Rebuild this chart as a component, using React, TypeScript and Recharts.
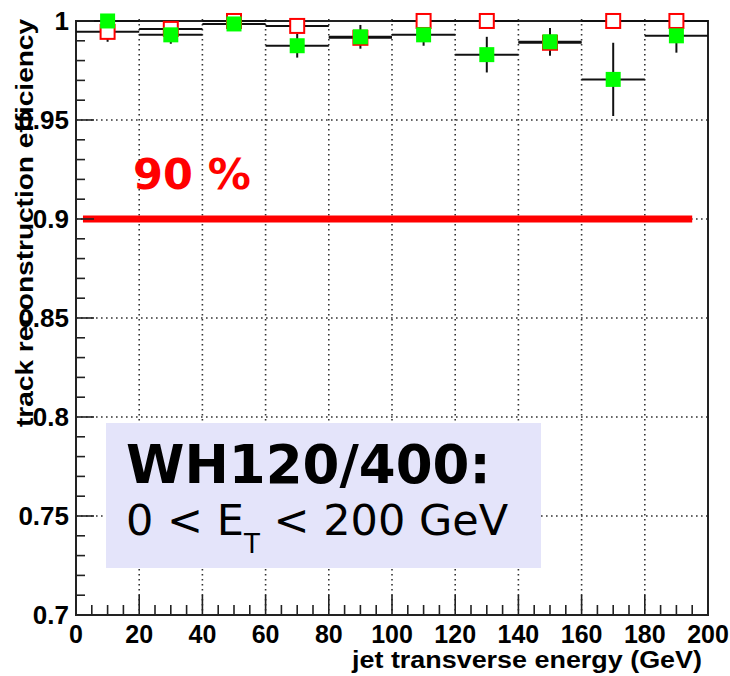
import { ScatterChart, Scatter, XAxis, YAxis, CartesianGrid, ErrorBar, ReferenceArea, ReferenceLine } from 'recharts'

// bins of 20 GeV in jet E_T
const BIN_CENTERS = [10, 30, 50, 70, 90, 110, 130, 150, 170, 190]
const BIN_HALF_WIDTH = 10

// open red squares
const RED_EFF = [0.9945, 0.996, 1.0, 0.9975, 0.9915, 1.0, 1.0, 0.989, 1.0, 1.0]
const RED_ERR = [0.005, 0.002, 0, 0.002, 0.003, 0, 0, 0.002, 0, 0]

// filled green squares
const GREEN_EFF = [1.0, 0.993, 0.9985, 0.9875, 0.992, 0.993, 0.983, 0.9895, 0.9705, 0.9925]
const GREEN_ERR = [0, 0.0045, 0.002, 0.006, 0.006, 0.0055, 0.009, 0.007, 0.0185, 0.0085]

const X_MAJOR = [0, 20, 40, 60, 80, 100, 120, 140, 160, 180, 200]
const Y_MAJOR = [0.7, 0.75, 0.8, 0.85, 0.9, 0.95, 1]
const Y_LABELS = ['0.7', '0.75', '0.8', '0.85', '0.9', '0.95', '1']

// 90% reference line
const THRESHOLD = 0.9
const THRESHOLD_FROM = 2.2
const THRESHOLD_TO = 195

const W = 730
const H = 676

const xMinor: number[] = []
for (let i = 0; i <= 40; i++) xMinor.push(i * 5)
const yMinor: number[] = []
for (let i = 0; i <= 30; i++) yMinor.push(Math.round(70 + i) / 100)

const toRows = (eff: number[], err: number[]) =>
  BIN_CENTERS.map((x, i) => ({ x, y: eff[i], ex: BIN_HALF_WIDTH, ey: err[i] }))

const redRows = toRows(RED_EFF, RED_ERR)
const greenRows = toRows(GREEN_EFF, GREEN_ERR)

const AXIS_FONT = '"Liberation Sans", Arial, Helvetica, sans-serif'
const BOX_FONT = '"DejaVu Sans", sans-serif'
const INK = '#222'

const XTick = (props: any) => {
  const { x, y, payload } = props
  const major = X_MAJOR.includes(payload.value)
  return (
    <g>
      <line x1={x} y1={y} x2={x} y2={y - (major ? 20 : 10)} stroke={INK} strokeWidth={1.6} />
      {major && (
        <text x={x} y={y + 28} textAnchor="middle" fontFamily={AXIS_FONT} fontWeight="bold" fontSize={25} fill="#000">
          {payload.value}
        </text>
      )}
    </g>
  )
}

const YTick = (props: any) => {
  const { x, y, payload } = props
  const idx = Y_MAJOR.indexOf(payload.value)
  const major = idx >= 0
  return (
    <g>
      <line x1={x} y1={y} x2={x + (major ? 18 : 9)} y2={y} stroke={INK} strokeWidth={1.6} />
      {major && (
        <text x={x - 7} y={y + 9} textAnchor="end" fontFamily={AXIS_FONT} fontWeight="bold" fontSize={26} fill="#000">
          {Y_LABELS[idx]}
        </text>
      )}
    </g>
  )
}

const OpenSquare = (props: any) => (
  <rect x={props.cx - 7} y={props.cy - 7} width={14} height={14} fill="#fff" stroke="#ff0000" strokeWidth={2} />
)

const FilledSquare = (props: any) => (
  <rect x={props.cx - 7.5} y={props.cy - 7.5} width={15} height={15} fill="#00ff00" />
)

export default function App() {
  return (
    <div style={{ position: 'absolute', left: 0, top: 0, width: W, height: H, background: '#fff' }}>
      <ScatterChart width={W} height={H} margin={{ top: 19, right: 22, bottom: 21, left: 20 }}>
        <CartesianGrid
          verticalValues={X_MAJOR.slice(1, -1)}
          horizontalValues={Y_MAJOR.slice(1, -1)}
          stroke="#333"
          strokeWidth={1.6}
          strokeDasharray="1.6 3.4"
        />
        <XAxis
          type="number"
          dataKey="x"
          domain={[0, 200]}
          ticks={xMinor}
          interval={0}
          axisLine={false}
          tickLine={false}
          tickSize={0}
          tickMargin={0}
          height={40}
          tick={<XTick />}
        />
        <YAxis
          type="number"
          dataKey="y"
          domain={[0.7, 1]}
          ticks={yMinor}
          interval={0}
          axisLine={false}
          tickLine={false}
          tickSize={0}
          tickMargin={0}
          width={56}
          tick={<YTick />}
        />
        <ReferenceArea x1={0} x2={200} y1={0.7} y2={1} fill="none" stroke={INK} strokeWidth={2} />
        <ReferenceLine
          segment={[{ x: THRESHOLD_FROM, y: THRESHOLD }, { x: THRESHOLD_TO, y: THRESHOLD }]}
          stroke="#ff0000"
          strokeWidth={7}
        />
        <Scatter data={redRows} shape={<OpenSquare />} isAnimationActive={false}>
          <ErrorBar dataKey="ex" direction="x" width={0} stroke="#111" strokeWidth={2} isAnimationActive={false} />
          <ErrorBar dataKey="ey" direction="y" width={0} stroke="#111" strokeWidth={2} isAnimationActive={false} />
        </Scatter>
        <Scatter data={greenRows} shape={<FilledSquare />} isAnimationActive={false}>
          <ErrorBar dataKey="ex" direction="x" width={0} stroke="#111" strokeWidth={2} isAnimationActive={false} />
          <ErrorBar dataKey="ey" direction="y" width={0} stroke="#111" strokeWidth={2} isAnimationActive={false} />
        </Scatter>
      </ScatterChart>

      <svg width={W} height={H} style={{ position: 'absolute', left: 0, top: 0, pointerEvents: 'none' }}>
        <text x={133} y={189} fontFamily={BOX_FONT} fontWeight="bold" fontSize={43} fill="#ff0000">
          90 %
        </text>

        <rect x={106} y={423} width={435} height={145} fill="#e4e4fa" />
        <text x={126} y={483} fontFamily={BOX_FONT} fontWeight="bold" fontSize={53} fill="#000">
          WH120/400:
        </text>
        <text x={126} y={535} fontFamily={BOX_FONT} fontSize={43} fill="#000">
          0 &lt; E
          <tspan fontSize={26} dy={18}>T</tspan>
          <tspan fontSize={43} dy={-18}> &lt; 200 GeV</tspan>
        </text>

        <text
          x={352}
          y={668}
          fontFamily={AXIS_FONT}
          fontWeight="bold"
          fontSize={23}
          textLength={350}
          lengthAdjust="spacingAndGlyphs"
          fill="#000"
        >
          jet transverse energy (GeV)
        </text>
        <text
          x={33}
          y={427}
          transform="rotate(-90, 33, 427)"
          fontFamily={AXIS_FONT}
          fontWeight="bold"
          fontSize={24}
          textLength={408}
          lengthAdjust="spacingAndGlyphs"
          fill="#000"
        >
          track reconstruction efficiency
        </text>
      </svg>
    </div>
  )
}
